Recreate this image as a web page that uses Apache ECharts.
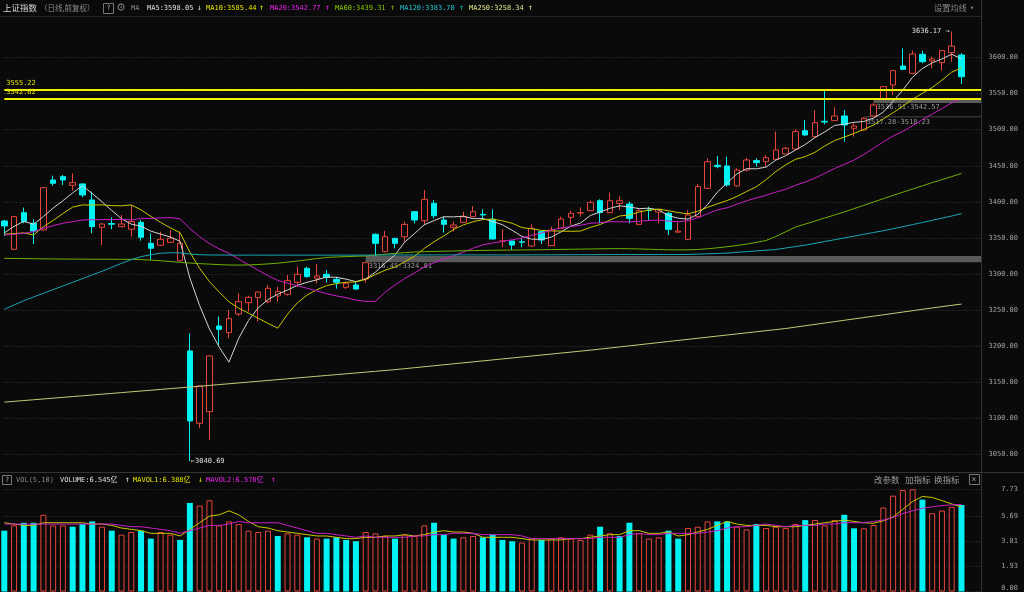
<!DOCTYPE html>
<html><head><meta charset="utf-8">
<script src="https://cdn.jsdelivr.net/npm/echarts@6/dist/echarts.min.js"></script>
<style>html,body{margin:0;padding:0;background:#0a0a0a;}#c{width:1024px;height:592px;}</style>
</head><body><div id="c"></div>
<script>
// ---------- data ----------
const opens = [3373.5, 3334.2, 3385.0, 3370.3, 3361.0, 3430.3, 3434.9, 3422.9, 3424.8, 3402.6,
3364.7, 3370.0, 3365.6, 3362.0, 3371.6, 3342.5, 3339.8, 3343.9, 3318.5, 3193.4,
3093.2, 3109.3, 3228.0, 3218.8, 3244.6, 3260.3, 3267.3, 3261.7, 3269.6, 3271.9,
3288.5, 3307.9, 3294.1, 3299.6, 3292.6, 3281.5, 3284.8, 3293.1, 3355.0, 3331.0,
3349.4, 3351.7, 3386.4, 3373.9, 3397.9, 3374.8, 3364.7, 3371.6, 3379.4, 3382.7,
3375.8, 3345.3, 3345.7, 3344.6, 3338.8, 3358.7, 3339.3, 3363.3, 3378.5, 3384.5,
3387.8, 3401.6, 3385.0, 3397.9, 3397.0, 3368.8, 3388.7, 3385.9, 3384.1, 3358.0,
3348.1, 3379.5, 3418.7, 3450.6, 3449.7, 3422.0, 3444.1, 3457.1, 3455.7, 3458.9,
3466.3, 3473.2, 3498.6, 3490.3, 3511.6, 3512.5, 3519.0, 3501.9, 3499.6, 3519.0,
3543.0, 3561.9, 3588.2, 3578.1, 3604.4, 3595.2, 3592.8, 3606.7, 3603.5];
const closes = [3366.6, 3379.5, 3372.6, 3359.6, 3419.7, 3425.7, 3430.3, 3426.6, 3409.5, 3365.6,
3369.3, 3369.0, 3369.3, 3372.6, 3350.9, 3335.6, 3348.1, 3349.5, 3342.5, 3096.4,
3144.9, 3186.5, 3223.4, 3238.2, 3261.7, 3267.7, 3275.1, 3280.2, 3275.6, 3290.8,
3299.6, 3296.4, 3297.3, 3295.4, 3288.5, 3287.1, 3279.2, 3315.7, 3342.5, 3351.7,
3342.5, 3368.8, 3374.8, 3403.5, 3380.8, 3368.8, 3367.9, 3379.4, 3386.4, 3381.8,
3348.5, 3345.7, 3340.2, 3344.0, 3363.3, 3347.1, 3361.0, 3376.2, 3384.1, 3385.0,
3399.3, 3385.0, 3401.6, 3401.6, 3377.1, 3387.8, 3388.0, 3389.6, 3361.9, 3359.5,
3381.8, 3421.1, 3455.7, 3448.8, 3423.4, 3444.1, 3458.0, 3454.3, 3461.2, 3471.9,
3474.2, 3497.3, 3492.6, 3509.7, 3510.6, 3519.0, 3506.5, 3505.1, 3515.7, 3534.2,
3559.6, 3581.8, 3583.6, 3604.9, 3594.2, 3597.9, 3609.5, 3615.9, 3573.4];
const lows = [3352.7, 3333.0, 3370.3, 3341.6, 3360.5, 3422.4, 3423.4, 3415.5, 3406.3, 3356.4,
3340.2, 3362.0, 3364.8, 3351.8, 3346.2, 3319.5, 3339.0, 3343.0, 3317.8, 3040.69,
3086.3, 3070.1, 3201.7, 3211.0, 3242.0, 3247.9, 3234.0, 3259.4, 3261.7, 3270.0,
3282.5, 3295.0, 3287.1, 3288.1, 3279.7, 3279.2, 3278.5, 3288.0, 3324.81, 3330.0,
3335.6, 3344.8, 3370.2, 3367.9, 3377.1, 3357.3, 3358.7, 3371.0, 3379.0, 3374.8,
3348.0, 3337.0, 3333.3, 3337.0, 3338.0, 3341.6, 3339.0, 3363.0, 3367.9, 3379.4,
3387.0, 3370.2, 3384.5, 3388.7, 3370.2, 3368.0, 3374.8, 3370.2, 3354.1, 3357.5,
3347.0, 3379.0, 3418.0, 3446.5, 3421.1, 3421.0, 3442.0, 3448.8, 3448.8, 3458.0,
3466.0, 3472.0, 3492.0, 3489.0, 3507.4, 3512.0, 3483.4, 3490.3, 3499.0, 3518.23,
3542.57, 3548.1, 3582.7, 3577.0, 3591.9, 3585.0, 3581.8, 3594.2, 3563.3];
const highs = [3375.0, 3380.5, 3392.0, 3376.0, 3420.5, 3436.3, 3437.2, 3439.5, 3425.7, 3414.1,
3370.5, 3378.6, 3381.8, 3395.7, 3374.9, 3356.4, 3358.7, 3361.0, 3358.7, 3217.9,
3145.5, 3187.0, 3241.0, 3250.2, 3273.3, 3270.0, 3276.0, 3284.8, 3282.5, 3298.7,
3310.2, 3310.0, 3313.9, 3305.6, 3296.3, 3289.4, 3289.4, 3316.45, 3356.4, 3359.6,
3350.0, 3372.5, 3387.0, 3416.4, 3402.5, 3379.4, 3372.5, 3386.4, 3394.2, 3389.6,
3389.6, 3361.9, 3346.0, 3349.4, 3368.8, 3360.0, 3365.6, 3379.4, 3387.8, 3392.4,
3401.6, 3403.5, 3412.7, 3408.1, 3400.2, 3390.0, 3393.3, 3390.0, 3386.4, 3371.6,
3388.7, 3424.7, 3460.3, 3463.5, 3462.6, 3446.5, 3461.0, 3460.3, 3464.9, 3497.3,
3476.0, 3500.5, 3513.4, 3527.3, 3555.22, 3531.0, 3527.3, 3508.8, 3517.28, 3536.91,
3560.0, 3582.0, 3612.7, 3609.5, 3609.5, 3601.2, 3610.0, 3636.17, 3605.8];

const ma5 = [3357, 3366, 3373, 3369, 3379.6, 3391.42, 3401.58, 3412.38, 3422.36, 3411.54,
3400.26, 3388.0, 3376.54, 3369.16, 3366.22, 3359.48, 3355.3, 3351.34, 3345.32, 3294.42,
3256.28, 3223.96, 3198.74, 3177.88, 3210.94, 3235.5, 3253.22, 3264.58, 3272.06, 3277.88,
3284.26, 3288.52, 3291.94, 3295.9, 3295.44, 3292.94, 3289.5, 3293.18, 3302.6, 3315.24,
3326.32, 3344.24, 3356.06, 3368.26, 3374.08, 3379.34, 3379.16, 3380.08, 3376.66, 3376.86,
3372.8, 3368.36, 3360.52, 3352.04, 3348.34, 3348.06, 3351.12, 3358.32, 3366.34, 3370.68,
3381.12, 3385.92, 3391.0, 3394.5, 3392.92, 3390.62, 3391.22, 3388.82, 3380.88, 3377.36,
3376.16, 3382.78, 3396.0, 3413.38, 3426.16, 3438.62, 3446.0, 3445.72, 3448.2, 3457.9,
3463.92, 3471.78, 3479.44, 3489.14, 3496.88, 3505.84, 3507.68, 3510.18, 3511.38, 3516.1,
3524.22, 3539.28, 3554.98, 3572.82, 3584.82, 3592.48, 3598.02, 3604.48, 3598.05];
const ma10 = [3355, 3356, 3357, 3354, 3365.6, 3374.2, 3383.8, 3392.7, 3395.7, 3395.57,
3395.84, 3394.79, 3394.46, 3395.76, 3388.88, 3379.87, 3371.65, 3363.94, 3357.24, 3330.32,
3307.88, 3289.63, 3275.04, 3261.6, 3252.68, 3245.89, 3238.59, 3231.66, 3224.97, 3244.41,
3259.88, 3270.87, 3278.26, 3283.98, 3286.66, 3288.6, 3289.01, 3292.56, 3299.25, 3305.34,
3309.63, 3316.87, 3324.62, 3335.43, 3344.66, 3352.83, 3361.7, 3368.07, 3372.46, 3375.47,
3376.07, 3373.76, 3370.3, 3364.35, 3362.6, 3360.43, 3359.74, 3359.42, 3359.19, 3359.51,
3364.59, 3368.52, 3374.66, 3380.42, 3381.8, 3385.87, 3388.57, 3389.91, 3387.69, 3385.14,
3383.39, 3387.0, 3392.41, 3397.13, 3401.76, 3407.39, 3414.39, 3420.86, 3430.79, 3442.03,
3451.27, 3458.89, 3462.58, 3468.67, 3477.39, 3484.88, 3489.73, 3494.81, 3500.26, 3506.49,
3515.03, 3523.48, 3532.58, 3542.1, 3550.46, 3558.35, 3568.65, 3579.73, 3585.44];
const ma20 = [3354, 3355, 3356.4, 3358.7, 3363.3, 3367, 3370.3, 3372.6, 3374.9, 3375.2,
3375.4, 3375.4, 3375.7, 3374.9, 3377.2, 3377.0, 3377.7, 3378.3, 3376.5, 3362.95,
3351.86, 3342.21, 3334.75, 3328.68, 3320.78, 3312.88, 3305.12, 3297.8, 3291.11, 3287.37,
3283.88, 3280.25, 3276.65, 3272.79, 3269.67, 3267.25, 3263.8, 3262.11, 3262.11, 3274.88,
3284.76, 3293.87, 3301.44, 3309.71, 3315.66, 3320.72, 3325.36, 3330.32, 3335.86, 3340.41,
3342.85, 3345.32, 3347.46, 3349.89, 3353.63, 3356.63, 3360.72, 3363.75, 3365.83, 3367.49,
3370.33, 3371.14, 3372.48, 3372.39, 3372.2, 3373.15, 3374.16, 3374.67, 3373.44, 3372.33,
3373.99, 3377.76, 3383.54, 3388.78, 3391.78, 3396.63, 3401.48, 3405.39, 3409.24, 3413.59,
3417.33, 3422.95, 3427.5, 3432.9, 3439.58, 3446.14, 3452.06, 3457.84, 3465.53, 3474.26,
3483.15, 3491.19, 3497.58, 3505.39, 3513.93, 3521.62, 3529.19, 3537.27, 3542.77];
const ma60 = [3321.8, 3321.6, 3321.4, 3321.2, 3321.0, 3320.9, 3320.8, 3320.7, 3320.6, 3320.5,
3320.5, 3320.4, 3320.4, 3320.4, 3320.0, 3319.3, 3318.4, 3317.3, 3316.2, 3315.2,
3314.4, 3313.7, 3313.0, 3312.5, 3312.4, 3312.6, 3313.2, 3314.0, 3315.0, 3316.5,
3318.0, 3319.7, 3321.4, 3323.0, 3323.6, 3324.1, 3324.6, 3325.0, 3326.2, 3327.4,
3328.6, 3329.6, 3330.5, 3331.0, 3331.3, 3331.6, 3331.9, 3332.2, 3332.5, 3332.7,
3332.9, 3333.1, 3333.2, 3333.3, 3333.5, 3333.7, 3333.9, 3334.1, 3334.3, 3334.5,
3334.7, 3334.9, 3335.1, 3335.2, 3335.0, 3334.7, 3334.3, 3333.9, 3333.6, 3333.4,
3333.5, 3334.0, 3335.0, 3336.3, 3337.8, 3339.5, 3341.5, 3343.8, 3346.5, 3352.0,
3358.5, 3365.0, 3369.2, 3373.4, 3377.6, 3381.8, 3386.0, 3390.6, 3395.2, 3399.8,
3404.4, 3409.0, 3413.4, 3417.8, 3422.2, 3426.6, 3430.8, 3435.0, 3439.31];
const ma120 = [3251.1, 3257.1, 3263.1, 3268.2, 3273.3, 3278.4, 3283.4, 3288.5, 3293.6, 3298.7,
3303.8, 3309.3, 3314.8, 3319.9, 3324.1, 3326.8, 3328.7, 3329.6, 3329.2, 3327.8,
3326.8, 3326.4, 3326.3, 3326.2, 3326.2, 3326.2, 3326.2, 3326.2, 3326.2, 3326.2,
3326.2, 3326.2, 3326.2, 3326.2, 3326.2, 3326.2, 3326.2, 3326.2, 3326.3, 3326.3,
3326.3, 3326.4, 3326.4, 3326.4, 3326.5, 3326.5, 3326.5, 3326.5, 3326.5, 3326.5,
3326.5, 3326.5, 3326.5, 3326.5, 3326.6, 3326.6, 3326.6, 3326.7, 3326.7, 3326.8,
3326.8, 3326.9, 3326.9, 3327.0, 3327.0, 3327.0, 3327.0, 3327.0, 3327.0, 3327.0,
3327.2, 3327.5, 3328.0, 3328.5, 3329.0, 3330.0, 3331.0, 3332.0, 3333.0, 3334.0,
3336.0, 3338.0, 3340.0, 3342.5, 3345.0, 3347.5, 3350.0, 3352.5, 3355.0, 3357.5,
3360.0, 3362.8, 3365.6, 3368.5, 3371.4, 3374.4, 3377.4, 3380.4, 3383.70];
const ma250 = [3122.5, 3123.6, 3124.7, 3125.8, 3126.9, 3128.0, 3129.1, 3130.2, 3131.3, 3132.4,
3133.5, 3134.6, 3135.7, 3136.8, 3137.9, 3139.0, 3140.1, 3141.2, 3142.3, 3143.4,
3144.5, 3145.65, 3146.8, 3147.95, 3149.1, 3150.25, 3151.4, 3152.55, 3153.7, 3154.85,
3156.0, 3157.15, 3158.3, 3159.45, 3160.6, 3161.75, 3162.9, 3164.05, 3165.2, 3166.35,
3167.5, 3168.85, 3170.2, 3171.55, 3172.9, 3174.25, 3175.6, 3176.95, 3178.3, 3179.65,
3181.0, 3182.35, 3183.7, 3185.05, 3186.4, 3187.75, 3189.1, 3190.45, 3191.8, 3193.15,
3194.5, 3196.0, 3197.5, 3199.0, 3200.5, 3202.0, 3203.5, 3205.0, 3206.5, 3208.0,
3209.5, 3211.0, 3212.5, 3214.0, 3215.5, 3217.0, 3218.5, 3220.0, 3221.5, 3223.0,
3224.5, 3226.4, 3228.3, 3230.2, 3232.1, 3234.0, 3235.9, 3237.8, 3239.7, 3241.6,
3243.5, 3245.4, 3247.3, 3249.2, 3251.1, 3253.0, 3254.8, 3256.6, 3258.34];

const volumes = [4.6, 5.0, 5.2, 5.2, 5.8, 5.0, 5.0, 4.9, 5.1, 5.3,
4.9, 4.6, 4.3, 4.5, 4.6, 4.0, 4.5, 4.3, 3.9, 6.7,
6.5, 6.9, 5.0, 5.3, 5.1, 4.6, 4.5, 4.6, 4.2, 4.4,
4.3, 4.1, 4.0, 4.0, 4.1, 3.9, 3.8, 4.5, 4.4, 4.2,
4.0, 4.3, 4.2, 5.0, 5.2, 4.3, 4.0, 4.1, 4.2, 4.1,
4.3, 3.9, 3.8, 3.7, 4.0, 3.9, 4.0, 4.1, 4.0, 3.9,
4.3, 4.9, 4.4, 4.2, 5.2, 4.4, 4.0, 4.1, 4.6, 4.0,
4.8, 4.9, 5.3, 5.3, 5.3, 4.9, 4.7, 5.1, 4.8, 4.9,
4.8, 5.1, 5.4, 5.4, 5.0, 5.4, 5.8, 4.78, 4.78, 5.03,
6.35, 7.25, 7.68, 7.73, 6.95, 5.92, 6.12, 6.4, 6.545];
const mavol1 = [5.2, 5.1, 5.0, 5.0, 5.2, 5.2, 5.2, 5.2, 5.2, 5.1,
5.1, 5.0, 4.8, 4.7, 4.6, 4.4, 4.4, 4.4, 4.2, 4.7,
5.2, 5.7, 5.8, 6.1, 5.8, 5.3, 4.9, 4.8, 4.6, 4.5,
4.4, 4.3, 4.2, 4.2, 4.1, 4.0, 4.0, 4.1, 4.1, 4.2,
4.2, 4.3, 4.2, 4.3, 4.5, 4.6, 4.5, 4.5, 4.4, 4.1,
4.1, 4.1, 4.1, 4.0, 3.9, 3.9, 3.9, 3.9, 4.0, 4.0,
4.1, 4.2, 4.3, 4.3, 4.6, 4.6, 4.4, 4.4, 4.5, 4.2,
4.3, 4.5, 4.7, 5.0, 5.3, 5.1, 5.0, 5.0, 5.0, 4.9,
4.9, 4.9, 5.0, 5.1, 5.2, 5.3, 5.4, 5.3, 5.2, 5.16,
5.35, 5.64, 6.22, 6.81, 7.19, 7.11, 6.88, 6.62, 6.388];
const mavol2 = [5.1, 5.1, 5.1, 5.1, 5.1, 5.1, 5.1, 5.1, 5.1, 5.1,
5.1, 5.1, 5.0, 4.9, 4.9, 4.8, 4.7, 4.6, 4.4, 4.6,
4.8, 5.0, 5.0, 5.1, 5.3, 5.2, 5.2, 5.2, 5.2, 5.0,
4.8, 4.6, 4.4, 4.4, 4.3, 4.2, 4.1, 4.2, 4.1, 4.1,
4.1, 4.1, 4.2, 4.2, 4.3, 4.3, 4.4, 4.4, 4.4, 4.3,
4.3, 4.3, 4.3, 4.2, 4.0, 4.0, 4.0, 4.0, 4.0, 4.0,
4.0, 4.1, 4.1, 4.1, 4.3, 4.4, 4.3, 4.3, 4.4, 4.4,
4.4, 4.4, 4.5, 4.6, 4.8, 4.9, 4.9, 5.0, 5.1, 5.0,
4.9, 5.0, 5.0, 5.0, 5.1, 5.1, 5.2, 5.2, 5.2, 5.3,
5.4, 5.6, 5.9, 6.1, 6.3, 6.4, 6.5, 6.55, 6.578];

const priceTicks = [3050, 3100, 3150, 3200, 3250, 3300, 3350, 3400, 3450, 3500, 3550, 3600];
const volTicks = [0, 1.93, 3.81, 5.69, 7.73];
const levelLines = [3555.22, 3542.62];
// [start candle index, low, high]
const gapZones = [[37, 3316.45, 3324.81], [88, 3517.28, 3518.23], [89, 3536.91, 3542.57]];

// ---------- chart ----------
const BG = '#0a0a0a', RED = '#e8443c', CYAN = '#00f2f2';
const MONO = "'DejaVu Sans Mono', 'Noto Sans CJK SC', monospace";
const CJK = "'Noto Sans CJK SC', sans-serif";
const N = closes.length;
const categories = Array.from({length: N + 2}, (_, i) => 'K' + (i + 1));
const lastIdx = categories.length - 1;
const kData = opens.map((o, i) => [o, closes[i], lows[i], highs[i]]);
const volData = volumes.map((v, i) => {
  const prev = i === 0 ? opens[0] : closes[i - 1];
  const up = closes[i] > prev;
  return { value: v, itemStyle: up ? { color: BG, borderColor: RED, borderWidth: 1 } : { color: CYAN, borderColor: CYAN, borderWidth: 0 } };
});
const hiIdx = highs.indexOf(Math.max(...highs));
const loIdx = lows.indexOf(Math.min(...lows));

function txt(x, y, text, fill, size, family) {
  return { type: 'text', x: x, y: y, silent: true, z: 100,
    style: { text: text, fill: fill, font: size + 'px ' + family, verticalAlign: 'middle', align: 'left' } };
}
function arrow(arr) { return arr[arr.length - 1] >= arr[arr.length - 2] ? '↑' : '↓'; }

const maDefs = [
  { name: 'MA5', arr: ma5, color: '#e0e0e0', x: 147, ax: 197 },
  { name: 'MA10', arr: ma10, color: '#e6e600', x: 206, ax: 259 },
  { name: 'MA20', arr: ma20, color: '#ee22ee', x: 270, ax: 325 },
  { name: 'MA60', arr: ma60, color: '#8ccc00', x: 335, ax: 390 },
  { name: 'MA120', arr: ma120, color: '#22c4d0', x: 400, ax: 459 },
  { name: 'MA250', arr: ma250, color: '#e6e68c', x: 469, ax: 528 }
];
const lineColors = { MA5: '#d4d4d4', MA10: '#c8c800', MA20: '#c81ec8', MA60: '#6fb000', MA120: '#1aa6b4', MA250: '#c9c97a' };

const graphics = [
  { type: 'line', silent: true, shape: { x1: 0, y1: 16.5, x2: 981, y2: 16.5 }, style: { stroke: '#262626', lineWidth: 1 } },
  { type: 'line', silent: true, shape: { x1: 0, y1: 472.5, x2: 1024, y2: 472.5 }, style: { stroke: '#333', lineWidth: 1 } },
  { type: 'line', silent: true, shape: { x1: 981.5, y1: 0, x2: 981.5, y2: 592 }, style: { stroke: '#333', lineWidth: 1 } },
  txt(3, 8, '上证指数', '#dcdcdc', 8.5, CJK),
  txt(40, 8, '（日线,前复权）', '#8a8a8a', 7.5, CJK),
  { type: 'rect', silent: true, shape: { x: 103.5, y: 3.5, width: 10, height: 10 }, style: { fill: 'none', stroke: '#777', lineWidth: 1 } },
  txt(106.5, 8.5, '?', '#aaa', 7, MONO),
  txt(116, 8, '⚙', '#777', 11, "'DejaVu Sans'"),
  txt(131, 8, 'MA', '#8a8a8a', 7, MONO),
  txt(934, 8, '设置均线', '#8a8a8a', 8.2, CJK),
  txt(970, 8, '▾', '#8a8a8a', 7, MONO),
  // volume header
  { type: 'rect', silent: true, shape: { x: 2.5, y: 475.5, width: 9, height: 9 }, style: { fill: 'none', stroke: '#777', lineWidth: 1 } },
  txt(5, 480.5, '?', '#aaa', 7, MONO),
  txt(16, 480, 'VOL(5,10)', '#8a8a8a', 7, MONO),
  txt(60, 480, 'VOLUME:' + volumes[N - 1].toFixed(3) + '亿', '#e0e0e0', 7, MONO),
  txt(125, 480, arrow(volumes), '#e0e0e0', 8, MONO),
  txt(133, 480, 'MAVOL1:' + mavol1[N - 1].toFixed(3) + '亿', '#e6e600', 7, MONO),
  txt(198, 480, arrow(mavol1), '#e6e600', 8, MONO),
  txt(206, 480, 'MAVOL2:' + mavol2[N - 1].toFixed(3) + '亿', '#ee22ee', 7, MONO),
  txt(271, 480, arrow(mavol2), '#ee22ee', 8, MONO),
  txt(874, 480, '改参数', '#9a9a9a', 8.5, CJK),
  txt(905, 480, '加指标', '#9a9a9a', 8.5, CJK),
  txt(934, 480, '换指标', '#9a9a9a', 8.5, CJK),
  { type: 'rect', silent: true, shape: { x: 969.5, y: 474.5, width: 10, height: 10 }, style: { fill: 'none', stroke: '#777', lineWidth: 1 } },
  txt(971.5, 479.5, '×', '#999', 8, MONO)
];
maDefs.forEach(d => {
  graphics.push(txt(d.x, 8, d.name + ':' + d.arr[N - 1].toFixed(2), d.color, 7, MONO));
  graphics.push(txt(d.ax, 8, arrow(d.arr), d.color, 8, MONO));
});

const chart = echarts.init(document.getElementById('c'));
const gridL = 4.3, gridR = 1024 - 981;
const option = {
  backgroundColor: BG,
  animation: false,
  grid: [
    { left: gridL, right: gridR, top: 17.8, height: 454.7 },
    { left: gridL, right: gridR, top: 489.3, height: 102.2 }
  ],
  xAxis: [0, 1].map(g => ({
    type: 'category', gridIndex: g, data: categories, boundaryGap: false,
    axisLine: { show: false }, axisTick: { show: false }, axisLabel: { show: false }, splitLine: { show: false }
  })),
  yAxis: [
    { type: 'value', gridIndex: 0, position: 'right', min: 3025, max: 3655,
      axisLine: { show: false }, axisTick: { show: false, customValues: priceTicks },
      axisLabel: { customValues: priceTicks, formatter: v => v.toFixed(2), color: '#a0a0a0', fontFamily: MONO, fontSize: 7, align: 'right', margin: 37 },
      splitLine: { show: true, lineStyle: { color: '#383838', type: [1, 2], width: 1 } } },
    { type: 'value', gridIndex: 1, position: 'right', min: 0, max: 7.73,
      axisLine: { show: false }, axisTick: { show: false, customValues: volTicks },
      axisLabel: { customValues: volTicks, formatter: v => v.toFixed(2), color: '#a0a0a0', fontFamily: MONO, fontSize: 7, align: 'right', margin: 37, verticalAlignMinLabel: 'bottom' },
      splitLine: { show: true, lineStyle: { color: '#383838', type: [1, 2], width: 1 } } }
  ],
  graphic: graphics,
  series: [
    { type: 'candlestick', name: 'K', xAxisIndex: 0, yAxisIndex: 0, data: kData, barWidth: 6,
      itemStyle: { color: BG, color0: CYAN, borderColor: RED, borderColor0: CYAN, borderWidth: 1 },
      markLine: { silent: true, symbol: 'none', animation: false,
        lineStyle: { color: '#f2f200', width: 2, type: 'solid' },
        label: { position: 'insideStartTop', distance: [2, 3], formatter: p => p.value.toFixed(2), color: '#e6e600', fontFamily: MONO, fontSize: 7 },
        data: levelLines.map(v => ({ yAxis: v })) },
      markArea: { silent: true,
        itemStyle: { color: 'rgba(105,105,105,0.85)' },
        label: { position: 'insideBottomLeft', distance: 3, offset: [0, 11], color: '#9a9a9a', fontFamily: MONO, fontSize: 7 },
        data: gapZones.map(z => [{ xAxis: z[0], yAxis: z[2], name: z[1].toFixed(2) + '-' + z[2].toFixed(2) }, { xAxis: lastIdx, yAxis: z[1] }]) },
      markPoint: { silent: true, symbol: 'circle', symbolSize: 0, animation: false,
        label: { color: '#e0e0e0', fontFamily: MONO, fontSize: 7 },
        data: [
          { coord: [hiIdx, highs[hiIdx]], label: { position: 'left', distance: 2, formatter: highs[hiIdx].toFixed(2) + ' →' } },
          { coord: [loIdx, lows[loIdx]], label: { position: 'right', distance: 1, formatter: '←' + lows[loIdx].toFixed(2) } }
        ] } },
    ...maDefs.map(d => ({ type: 'line', name: d.name, xAxisIndex: 0, yAxisIndex: 0, data: d.arr, showSymbol: false, silent: true,
      lineStyle: { color: lineColors[d.name], width: 1 }, z: 3 })),
    { type: 'bar', name: 'VOL', xAxisIndex: 1, yAxisIndex: 1, data: volData, barWidth: 6 },
    { type: 'line', name: 'MAVOL1', xAxisIndex: 1, yAxisIndex: 1, data: mavol1, showSymbol: false, silent: true, lineStyle: { color: '#c8c800', width: 1 }, z: 3 },
    { type: 'line', name: 'MAVOL2', xAxisIndex: 1, yAxisIndex: 1, data: mavol2, showSymbol: false, silent: true, lineStyle: { color: '#c81ec8', width: 1 }, z: 3 }
  ]
};
chart.setOption(option);
</script>
</body></html>
